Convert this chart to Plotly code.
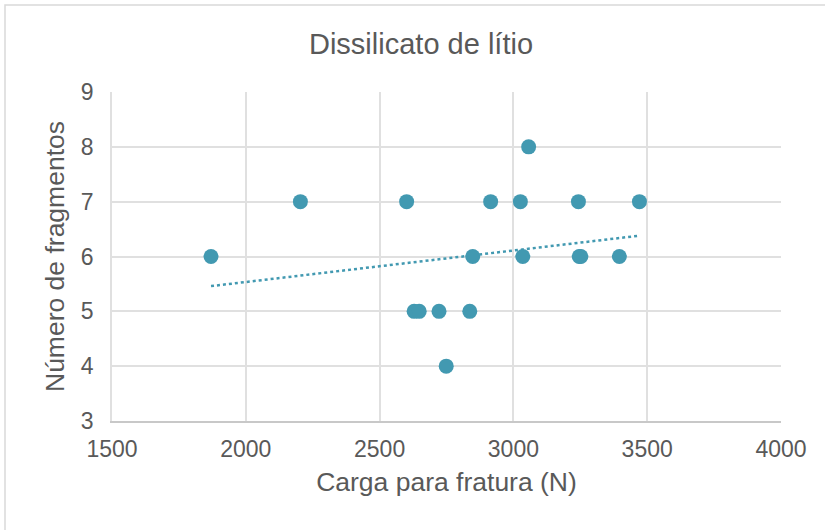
import plotly.graph_objects as go

# Fracture load (N) and number of fragments per specimen
carga = [1870, 2204, 2601, 2629, 2648, 2722, 2749, 2837, 2848, 2915,
         3026, 3035, 3057, 3243, 3246, 3252, 3396, 3471]
fragmentos = [6, 7, 7, 5, 5, 5, 4, 5, 6, 7,
              7, 6, 8, 7, 6, 6, 6, 7]

# Linear trendline end points
trend_x = [1870, 3471]
trend_y = [5.46, 6.38]

x_ticks = [1500, 2000, 2500, 3000, 3500, 4000]
y_ticks = [3, 4, 5, 6, 7, 8, 9]

cor = "#4299B1"
texto = "#595959"
grade = "#E0E0E0"
fonte = "Liberation Sans, Arial, sans-serif"

W, H = 825, 530
L, R, T, B = 112, 44, 92, 109

fig = go.Figure()
fig.add_trace(go.Scatter(
    x=trend_x, y=trend_y, mode="lines",
    line=dict(color=cor, width=2.5, dash="dot"),
    hoverinfo="skip", showlegend=False,
))
fig.add_trace(go.Scatter(
    x=carga, y=fragmentos, mode="markers",
    marker=dict(color=cor, size=15, line=dict(width=0)),
    showlegend=False,
))

pw = W - L - R
ph = H - T - B
# outer chart border
fig.add_shape(
    type="rect", xref="paper", yref="paper",
    x0=(5 - L) / pw, x1=(W + 5 - L) / pw,
    y0=-(H + 5 - T - ph) / ph, y1=(T - 5) / ph + 1,
    line=dict(color="#D9D9D9", width=1.5), layer="below",
)

fig.update_layout(
    width=W, height=H,
    margin=dict(l=L, r=R, t=T, b=B),
    paper_bgcolor="white", plot_bgcolor="white",
    font=dict(family=fonte, color=texto),
    title=dict(text="Dissilicato de lítio", x=421 / W, xanchor="center",
               y=1 - 44 / H, yanchor="middle",
               font=dict(size=29, color=texto, family=fonte)),
    xaxis=dict(
        range=[1500, 4000], tickvals=x_ticks, ticktext=[str(v) for v in x_ticks],
        showgrid=True, gridcolor=grade, gridwidth=1.8,
        showline=True, linecolor="#C8C8C8", linewidth=1.8, mirror=False,
        zeroline=False, ticks="", ticklabelstandoff=6,
        tickfont=dict(size=23, color=texto, family=fonte),
        title=dict(text="Carga para fratura (N)", standoff=12,
                   font=dict(size=26.5, color=texto, family=fonte)),
    ),
    yaxis=dict(
        range=[3, 9], tickvals=y_ticks, ticktext=[str(v) for v in y_ticks],
        showgrid=True, gridcolor=grade, gridwidth=1.8,
        showline=True, linecolor=grade, linewidth=1.8,
        zeroline=False, ticks="", ticklabelstandoff=12,
        tickfont=dict(size=23, color=texto, family=fonte),
        title=dict(text="Número de fragmentos", standoff=8,
                   font=dict(size=26.5, color=texto, family=fonte)),
    ),
)

fig.write_html("out.html")
